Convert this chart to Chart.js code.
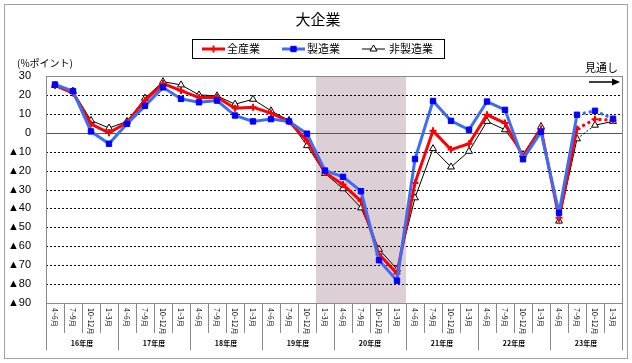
<!DOCTYPE html>
<html><head><meta charset="utf-8">
<script src="https://cdn.jsdelivr.net/npm/chart.js@4.4.1/dist/chart.umd.min.js"></script>
<style>html,body{margin:0;padding:0;background:#fff}#wrap{width:632px;height:363px}</style>
</head><body><div id="wrap"><canvas id="c" width="632" height="363"></canvas></div>
<script>
const quarters = ["4~6月","7~9月","10~12月","1~3月"];
const fiscalYears = ["16年度","17年度","18年度","19年度","20年度","21年度","22年度","23年度"];
const categories = [];
fiscalYears.forEach(y => quarters.forEach(q => categories.push(y + " " + q)));
const allIndustries = [25, 21, 4.6, 0, 5.4, 17, 26, 22.3, 18.6, 18.8, 13, 13.5, 10.4, 6, -4.2, -21, -27.4, -36.1, -64.2, -74.4, -26.5, 1, -8.9, -5.8, 9.5, 5.1, -12.5, 2, -44.9, 2, 7.2, 6.5];
const manufacturing = [25.5, 22, 0.7, -5.8, 4.7, 14.2, 24, 17.9, 16.1, 17, 9.1, 6, 7.2, 6, -0.5, -20, -23.3, -30.9, -67.4, -78.2, -13.9, 16.8, 6.3, 1.6, 16.5, 12.1, -14, 0.5, -42.3, 9.5, 11.6, 7.4];
const nonManufacturing = [25, 22, 6.5, 2.5, 6, 18.3, 27, 25.3, 20, 19.5, 15.1, 17.7, 11.6, 6.5, -6.8, -21.5, -29.6, -39.7, -61.6, -72.1, -34.4, -8.4, -18.1, -9.8, 6, 1.6, -11.5, 3.3, -46.7, -3.2, 4, 6];
const seriesNames = ["全産業","製造業","非製造業"];
const yTicks = [30,20,10,0,-10,-20,-30,-40,-50,-60,-70,-80,-90];
const shadeFrom = 15, shadeTo = 19;   // recession shading (category indices)
const forecastFrom = 29;               // forecast segments start here

const JP = "'Noto Sans CJK JP', sans-serif";
const NUM = "'Liberation Sans', 'Noto Sans CJK JP', sans-serif";

const deco = {
  id: 'deco',
  beforeDatasetsDraw(chart) {
    const {ctx, chartArea: a, scales: {x, y}} = chart;
    const w = x.getPixelForValue(1) - x.getPixelForValue(0);
    ctx.save();
    const s0 = x.getPixelForValue(shadeFrom) - w / 2, s1 = x.getPixelForValue(shadeTo) + w / 2;
    ctx.fillStyle = '#dcd0d6';
    ctx.fillRect(s0, a.top, s1 - s0, a.bottom - a.top);
    yTicks.forEach(v => {
      const py = Math.round(y.getPixelForValue(v)) + 0.5;
      ctx.beginPath();
      if (v === 0) { ctx.setLineDash([]); ctx.strokeStyle = '#555'; }
      else { ctx.setLineDash([2, 2]); ctx.strokeStyle = '#000'; }
      ctx.lineWidth = 1;
      ctx.moveTo(a.left, py); ctx.lineTo(a.right, py); ctx.stroke();
    });
    ctx.setLineDash([]);
    ctx.strokeStyle = '#8a8a8a';
    ctx.strokeRect(Math.round(a.left) + 0.5, Math.round(a.top) + 0.5, Math.round(a.right - a.left), Math.round(a.bottom - a.top));
    for (let i = 0; i <= categories.length; i++) {
      const bx = Math.round((i < categories.length ? x.getPixelForValue(i) : x.getPixelForValue(i - 1) + w) - w / 2) + 0.5;
      ctx.beginPath();
      ctx.moveTo(bx, a.bottom);
      ctx.lineTo(bx, i % 4 === 0 ? a.bottom + 47 : a.bottom + 30);
      ctx.stroke();
    }
    ctx.fillStyle = '#000';
    ctx.font = '7px ' + JP;
    categories.forEach((c, i) => {
      const cx = x.getPixelForValue(i);
      ctx.save();
      ctx.translate(cx, a.bottom + 5);
      ctx.rotate(Math.PI / 2);
      ctx.textAlign = 'left'; ctx.textBaseline = 'middle';
      ctx.fillText(quarters[i % 4], 0, 0);
      ctx.restore();
    });
    ctx.font = 'bold 7px ' + JP;
    ctx.textAlign = 'center'; ctx.textBaseline = 'middle';
    fiscalYears.forEach((fy, k) => {
      const cx = (x.getPixelForValue(k * 4) + x.getPixelForValue(k * 4 + 3)) / 2;
      ctx.fillText(fy, cx, a.bottom + 40);
    });
    ctx.restore();
  },
  afterDraw(chart) {
    const {ctx} = chart;
    ctx.save();
    ctx.strokeStyle = '#a0a0a0'; ctx.lineWidth = 1;
    ctx.strokeRect(4.5, 4.5, 623, 354);
    ctx.fillStyle = '#000';
    ctx.font = '15px ' + JP;
    ctx.textAlign = 'center'; ctx.textBaseline = 'middle';
    ctx.fillText('大企業', 318, 19);
    ctx.font = '10px ' + JP;
    ctx.textAlign = 'left';
    ctx.fillText('(%ポイント)', 17, 63);
    ctx.font = '11px ' + JP;
    ctx.fillText('見通し', 585, 68);
    ctx.strokeStyle = '#000'; ctx.lineWidth = 1.5;
    ctx.beginPath(); ctx.moveTo(589, 82); ctx.lineTo(614, 82); ctx.stroke();
    ctx.beginPath(); ctx.moveTo(620, 82); ctx.lineTo(612, 78.5); ctx.lineTo(612, 85.5); ctx.closePath(); ctx.fill();
    ctx.lineWidth = 1; ctx.strokeStyle = '#000';
    ctx.strokeRect(192.5, 39.5, 252, 19);
    const items = [{x: 202, tx: 227}, {x: 282, tx: 307}, {x: 362, tx: 389}];
    const ly = 49;
    chart.data.datasets.slice().sort((p, q) => p.legendOrder - q.legendOrder).forEach((ds, k) => {
      const it = items[k];
      ctx.strokeStyle = ds.borderColor; ctx.lineWidth = ds.borderWidth;
      ctx.beginPath(); ctx.moveTo(it.x, ly); ctx.lineTo(it.x + 23, ly); ctx.stroke();
      ctx.fillStyle = ds.pointBackgroundColor; ctx.strokeStyle = ds.pointBorderColor; ctx.lineWidth = ds.pointBorderWidth;
      ctx.beginPath();
      Chart.helpers.drawPoint(ctx, {pointStyle: ds.pointStyle, radius: ds.pointRadius, borderWidth: ds.pointBorderWidth}, it.x + 11.5, ly);
      ctx.fillStyle = '#000';
      ctx.font = '11px ' + JP; ctx.textAlign = 'left'; ctx.textBaseline = 'middle';
      ctx.fillText(ds.label, it.tx, ly);
    });
    ctx.restore();
  }
};

new Chart(document.getElementById('c'), {
  type: 'line',
  data: {
    labels: categories,
    datasets: [
      {label: seriesNames[1], legendOrder: 1, data: manufacturing, borderColor: '#3d6cf5', borderWidth: 3,
       pointStyle: 'rect', pointRadius: 3.8, pointBackgroundColor: '#0000ff', pointBorderColor: '#0000ff', pointBorderWidth: 1,
       segment: {borderDash: c => c.p0DataIndex >= forecastFrom ? [3, 3] : undefined}},
      {label: seriesNames[0], legendOrder: 0, data: allIndustries, borderColor: '#ff0000', borderWidth: 3,
       pointStyle: 'cross', pointRadius: 3.5, pointBackgroundColor: '#ff0000', pointBorderColor: '#ff0000', pointBorderWidth: 2,
       segment: {borderDash: c => c.p0DataIndex >= forecastFrom ? [3, 3] : undefined}},
      {label: seriesNames[2], legendOrder: 2, data: nonManufacturing, borderColor: '#000000', borderWidth: 1,
       pointStyle: 'triangle', pointRadius: 4, pointBackgroundColor: '#ffffff', pointBorderColor: '#000000', pointBorderWidth: 1,
       segment: {borderDash: c => c.p0DataIndex === forecastFrom ? [2, 2] : undefined}}
    ]
  },
  options: {
    responsive: false,
    animation: false,
    events: [],
    layout: {padding: {top: 76, left: 0, right: 10, bottom: 60}},
    elements: {line: {tension: 0}},
    plugins: {legend: {display: false}, title: {display: false}, tooltip: {enabled: false}},
    scales: {
      x: {display: false, offset: true},
      y: {
        min: -90, max: 30,
        afterFit: s => { s.width = 46; },
        afterBuildTicks: s => { s.ticks = yTicks.map(v => ({value: v})); },
        grid: {display: false},
        border: {display: false},
        ticks: {padding: 7, color: '#000', font: {family: NUM, size: 11},
          callback: v => v < 0 ? '▲' + Math.abs(v) : String(v)}
      }
    }
  },
  plugins: [deco]
});
</script></body></html>
